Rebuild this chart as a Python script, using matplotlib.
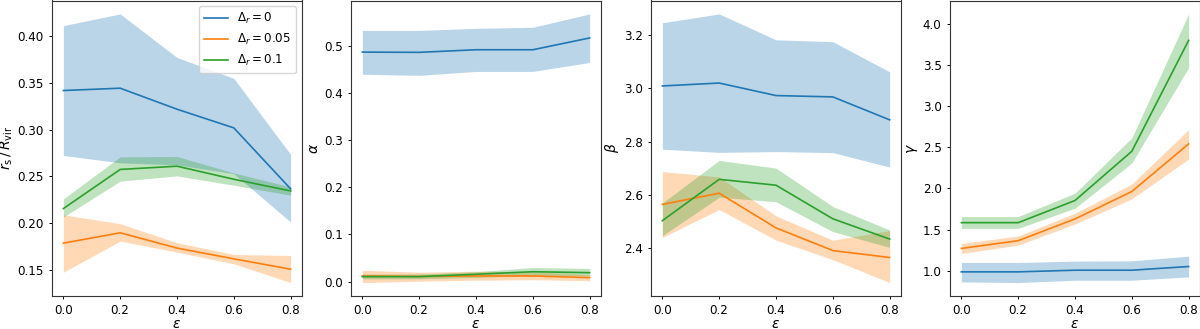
import matplotlib
matplotlib.use("Agg")
import matplotlib.pyplot as plt
import numpy as np

eps = [0.0, 0.2, 0.4, 0.6, 0.8]
labels = [r'$\Delta_r = 0$', r'$\Delta_r = 0.05$', r'$\Delta_r = 0.1$']

# r_s / R_vir  (order: Delta_r = 0, 0.05, 0.1)
rs_mid = [[0.342, 0.3445, 0.322, 0.302, 0.2367],
          [0.1786, 0.1897, 0.1733, 0.1618, 0.1507],
          [0.2156, 0.2575, 0.261, 0.247, 0.2345]]
rs_hi = [[0.4115, 0.424, 0.3774, 0.355, 0.2736],
         [0.209, 0.1994, 0.179, 0.1665, 0.1654],
         [0.226, 0.271, 0.2714, 0.2538, 0.2388]]
rs_lo = [[0.2725, 0.2646, 0.2624, 0.253, 0.2012],
         [0.1475, 0.1808, 0.169, 0.1565, 0.1364],
         [0.2066, 0.245, 0.2506, 0.2406, 0.2299]]

# alpha
al_mid = [[0.487, 0.4865, 0.492, 0.492, 0.517],
          [0.012, 0.011, 0.012, 0.012, 0.0085],
          [0.0106, 0.0106, 0.0156, 0.021, 0.019]]
al_hi = [[0.533, 0.533, 0.5375, 0.5397, 0.568],
         [0.024, 0.020, 0.022, 0.021, 0.015],
         [0.016, 0.016, 0.021, 0.030, 0.028]]
al_lo = [[0.440, 0.4377, 0.446, 0.446, 0.465],
         [-0.002, 0.001, 0.003, 0.004, 0.002],
         [0.006, 0.006, 0.009, 0.013, 0.012]]

# beta
be_mid = [[3.009, 3.020, 2.973, 2.968, 2.882],
          [2.565, 2.607, 2.477, 2.392, 2.366],
          [2.504, 2.659, 2.637, 2.511, 2.435]]
be_hi = [[3.246, 3.279, 3.182, 3.175, 3.062],
         [2.688, 2.668, 2.522, 2.431, 2.467],
         [2.570, 2.730, 2.701, 2.557, 2.469]]
be_lo = [[2.772, 2.760, 2.763, 2.759, 2.705],
         [2.441, 2.546, 2.431, 2.358, 2.272],
         [2.448, 2.592, 2.575, 2.463, 2.404]]

# gamma
ga_mid = [[0.988, 0.988, 1.008, 1.008, 1.053],
          [1.272, 1.366, 1.630, 1.963, 2.541],
          [1.585, 1.585, 1.854, 2.451, 3.797]]
ga_hi = [[1.102, 1.102, 1.118, 1.122, 1.179],
         [1.333, 1.423, 1.700, 2.053, 2.715],
         [1.659, 1.659, 1.943, 2.614, 4.118]]
ga_lo = [[0.866, 0.858, 0.886, 0.886, 0.927],
         [1.211, 1.313, 1.569, 1.874, 2.358],
         [1.516, 1.516, 1.760, 2.309, 3.467]]

plt.rcParams['font.size'] = 8.6
plt.rcParams['axes.linewidth'] = 0.8
plt.rcParams['axes.edgecolor'] = '#333333'
plt.rcParams['xtick.major.size'] = 2.5
plt.rcParams['ytick.major.size'] = 2.5
plt.rcParams['xtick.major.width'] = 0.7
plt.rcParams['ytick.major.width'] = 0.7

colors = ['C0', 'C1', 'C2']
fig = plt.figure(figsize=(12, 3.29), dpi=100)
W, H = 1200, 329
lefts = [52, 351, 651, 950]
panels = [(rs_mid, rs_hi, rs_lo, r'$r_{\rm s}\,/\,R_{\rm vir}$'),
          (al_mid, al_hi, al_lo, r'$\alpha$'),
          (be_mid, be_hi, be_lo, r'$\beta$'),
          (ga_mid, ga_hi, ga_lo, r'$\gamma$')]

for i, (mid, hi, lo, ylab) in enumerate(panels):
    ax = fig.add_axes([lefts[i] / W, 33 / H, 250 / W, 295.5 / H])
    for k in range(3):
        ax.plot(eps, mid[k], color=colors[k], lw=1.2, label=labels[k])
        ax.fill_between(eps, lo[k], hi[k], color=colors[k], alpha=0.3, lw=0)
    ax.set_xlabel(r'$\varepsilon$', fontsize=10, labelpad=0)
    ax.set_ylabel(ylab, fontsize=10, labelpad=2)
    ax.set_xticks([0.0, 0.2, 0.4, 0.6, 0.8])
    if i == 0:
        ax.legend(loc='upper right', fontsize=8.6, handlelength=2.0)

fig.savefig('out.png', dpi=100)
